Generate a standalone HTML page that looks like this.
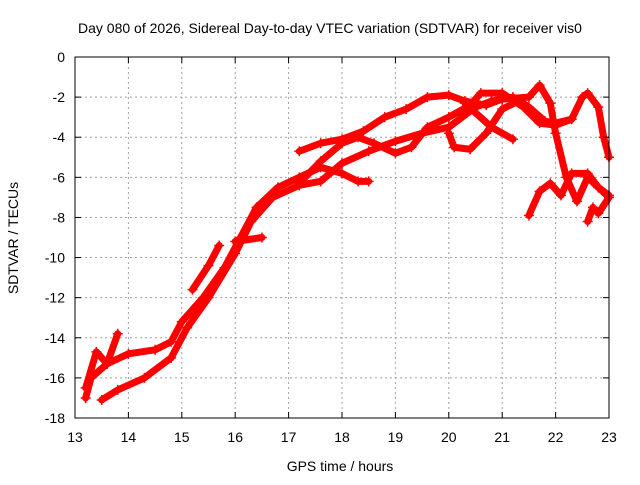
<!DOCTYPE html>
<html><head><meta charset="utf-8"><style>
body{margin:0;background:#fff}
svg text{font-family:"Liberation Sans",sans-serif;font-size:14px;fill:#000}
</style></head><body>
<svg width="640" height="480">
<rect width="640" height="480" fill="#fff"/>
<g id="grid"></g><g id="series"></g><g id="axes"></g>
<text x="330" y="33" text-anchor="middle">Day 080 of 2026, Sidereal Day-to-day VTEC variation (SDTVAR) for receiver vis0</text>
<text x="340" y="471" text-anchor="middle">GPS time / hours</text>
<text transform="translate(18,238) rotate(-90)" text-anchor="middle">SDTVAR / TECUs</text>
</svg>
<script>
const xTicks=[13,14,15,16,17,18,19,20,21,22,23];
const yTicks=[0,-2,-4,-6,-8,-10,-12,-14,-16,-18];
const t1h=[13.2,13.3,13.6,14,14.5,14.8,15,15.4,15.8,16.1,16.4,16.8,17.2,17.6,18,18.3,18.5];
const t1v=[-17,-16,-15.3,-14.8,-14.6,-14.2,-13.2,-12,-10.5,-9,-7.5,-6.5,-6,-5.5,-5.8,-6.2,-6.2];
const t2h=[13.5,13.8,14.3,14.8,15.1,15.5,16,16.3,16.7,17.2,17.6,18,18.5,19,19.5,20,20.5,20.8,21.2,21.5,21.8,22,22.3];
const t2v=[-17.1,-16.6,-16,-15,-13.5,-12,-9.8,-8.2,-7,-6.4,-6.2,-5.3,-4.7,-4.2,-3.8,-3.5,-2.5,-2.2,-2,-2.5,-3.2,-3.3,-3.1];
const t3h=[17.2,17.6,18,18.4,18.8,19.2,19.6,20,20.3,20.7,21,21.5,21.7,21.9,22,22.2,22.4,22.6,22.8,23];
const t3v=[-4.7,-4.3,-4.1,-3.7,-3,-2.6,-2,-1.9,-2.2,-2.4,-2.1,-2,-1.4,-2.3,-3.8,-6,-7.2,-6,-6.5,-7];
const t4h=[17.2,17.6,18,18.3,18.6,19,19.3,19.6,20,20.4,20.6,21,21.4,21.7,22,22.3,22.5,22.6,22.8,22.9,23];
const t4v=[-6.3,-5.2,-4.3,-4,-4.3,-4.8,-4.5,-3.5,-3,-2.4,-1.8,-1.8,-2.5,-3.3,-3.4,-3.1,-2,-1.8,-2.5,-4,-5];
const t5h=[20,20.1,20.4,20.7,21,21.3];
const t5v=[-3.8,-4.5,-4.6,-3.8,-2.6,-2.2];
const t6h=[20.3,20.8,21.2];
const t6v=[-2.3,-3.5,-4.1];
const t7h=[21.5,21.7,21.9,22.1,22.3,22.6,22.8,23];
const t7v=[-7.9,-6.7,-6.3,-6.9,-5.8,-5.8,-6.5,-6.9];
const t8h=[22.6,22.7,22.8,23];
const t8v=[-8.2,-7.5,-7.8,-7];
const t9h=[13.2,13.4,13.6,13.8];
const t9v=[-16.5,-14.7,-15.3,-13.8];
const t10h=[15.2,15.5,15.7];
const t10v=[-11.6,-10.4,-9.4];
const t11h=[16,16.5];
const t11v=[-9.2,-9];
const tracks=[[t1h,t1v],[t2h,t2v],[t3h,t3v],[t4h,t4v],[t5h,t5v],[t6h,t6v],[t7h,t7v],[t8h,t8v],[t9h,t9v],[t10h,t10v],[t11h,t11v]];
const X0=75,X1=609,Y0=57,Y1=418;
const sx=h=>X0+(h-13)/10*(X1-X0);
const sy=v=>Y0+(0-v)/18*(Y1-Y0);
const NS='http://www.w3.org/2000/svg';
const mk=(t,a,p)=>{const e=document.createElementNS(NS,t);for(const k in a)e.setAttribute(k,a[k]);p.appendChild(e);return e;};
const grid=document.getElementById('grid'),axes=document.getElementById('axes'),ser=document.getElementById('series');
xTicks.forEach(t=>{const x=sx(t);
 if(t>13&&t<23){const g=mk('line',{x1:x,x2:x,y1:Y0,y2:Y1,stroke:'#a0a0a0','stroke-dasharray':'2,3'},grid);
 
 }
 mk('line',{x1:x,x2:x,y1:Y1,y2:Y1-6,stroke:'#000'},axes);mk('line',{x1:x,x2:x,y1:Y0,y2:Y0+6,stroke:'#000'},axes);
 const l=mk('text',{x:x,y:Y1+24,'text-anchor':'middle'},axes);l.textContent=t;
 
 });
yTicks.forEach(t=>{const y=sy(t);
 if(t<0&&t>-18){const g=mk('line',{x1:X0,x2:X1,y1:y,y2:y,stroke:'#a0a0a0','stroke-dasharray':'2,3'},grid);
 
 }
 mk('line',{x1:X0,x2:X0+6,y1:y,y2:y,stroke:'#000'},axes);mk('line',{x1:X1,x2:X1-6,y1:y,y2:y,stroke:'#000'},axes);
 const l=mk('text',{x:X0-10,y:y+5,'text-anchor':'end'},axes);l.textContent=t;
 
 });
const fr=mk('rect',{x:X0,y:Y0,width:X1-X0,height:Y1-Y0,fill:'none',stroke:'#000'},axes);


tracks.forEach(([hs,vs])=>{
 const pts=hs.map((h,i)=>sx(h)+','+sy(vs[i])).join(' ');
 const pl=mk('polyline',{points:pts,fill:'none',stroke:'#f00','stroke-width':7,'stroke-linejoin':'round','stroke-linecap':'round'},ser);
 
 
 hs.forEach((h,i)=>{const x=sx(h),y=sy(vs[i]);
  const p=mk('path',{d:`M${x-5},${y}H${x+5}M${x},${y-5}V${y+5}`,stroke:'#f00','stroke-width':1.5},ser);
  
  });
});
</script>
</body></html>
